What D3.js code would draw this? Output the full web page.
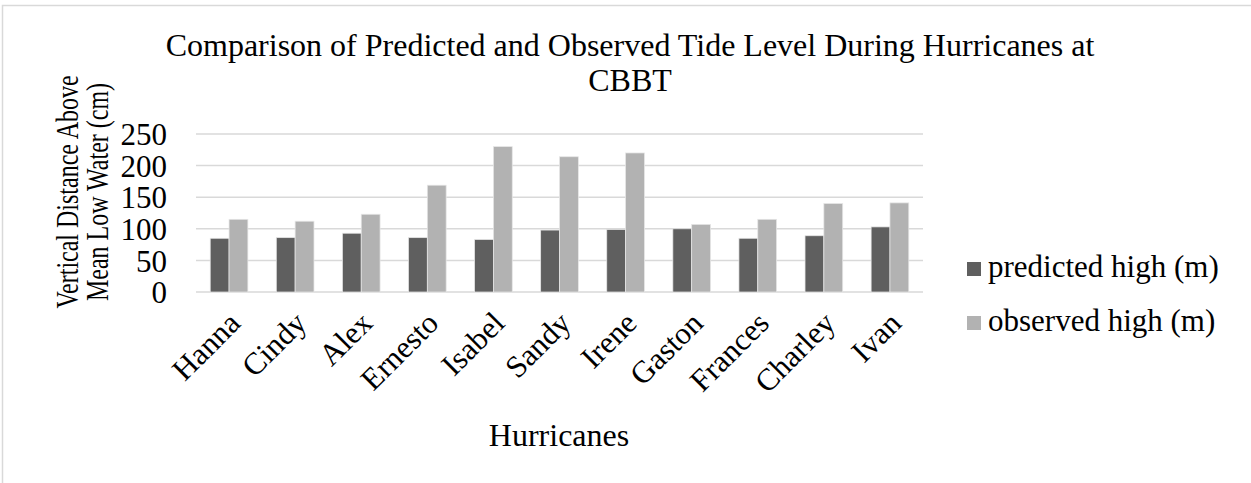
<!DOCTYPE html>
<html>
<head>
<meta charset="utf-8">
<script src="https://cdn.jsdelivr.net/npm/d3@7"></script>
<style>
  body { margin: 0; background: #fff; }
  text { font-family: "Liberation Serif", "Times New Roman", serif; fill: #000; }
</style>
</head>
<body>
<div id="chart"></div>
<script>
// hurricane names along the x axis
var hurricanes = ["Hanna", "Cindy", "Alex", "Ernesto", "Isabel", "Sandy", "Irene", "Gaston", "Frances", "Charley", "Ivan"];
var predictedHigh = [85, 86, 93, 86, 83, 98, 99, 100, 85, 89, 103];
var observedHigh = [115, 112, 123, 169, 230, 214, 220, 107, 115, 140, 141];
var seriesNames = ["predicted high (m)", "observed high (m)"];
var yTicks = [0, 50, 100, 150, 200, 250];
var yTitleLines = ["Vertical Distance Above", "Mean Low Water (cm)"];

function createBarChart() {
    var width = 1251, height = 483;
    var margin = { top: 134, right: 328, bottom: 191, left: 196 };
    var colors = ["#5f5f5f", "#b2b2b2"];

    var svg = d3.select("#chart")
        .append("svg")
        .attr("width", width)
        .attr("height", height);

    // outer chart border (runs off right and bottom edge)
    svg.append("path")
        .attr("d", "M2.5," + (height + 5) + "V5.5H" + (width + 5))
        .attr("fill", "none")
        .attr("stroke", "#d9d9d9")
        .attr("stroke-width", 1.5);

    var x = d3.scaleBand()
        .domain(hurricanes)
        .range([margin.left, width - margin.right])
        .paddingInner(0.43)
        .paddingOuter(0.215);

    var x1 = d3.scaleBand()
        .domain([0, 1])
        .range([0, x.bandwidth()]);

    var y = d3.scaleLinear()
        .domain([0, 250])
        .range([height - margin.bottom, margin.top]);

    // gridlines
    svg.append("g")
        .selectAll("line")
        .data(yTicks)
        .enter()
        .append("line")
        .attr("x1", margin.left)
        .attr("x2", width - margin.right)
        .attr("y1", function (d) { return y(d); })
        .attr("y2", function (d) { return y(d); })
        .attr("stroke", "#d9d9d9")
        .attr("stroke-width", 1.5);

    // y tick labels
    svg.append("g")
        .selectAll("text")
        .data(yTicks)
        .enter()
        .append("text")
        .attr("x", 167)
        .attr("y", function (d) { return y(d); })
        .attr("dy", "0.36em")
        .attr("text-anchor", "end")
        .style("font-size", "31px")
        .text(function (d) { return d; });

    // bars
    var series = [predictedHigh, observedHigh];
    series.forEach(function (vals, si) {
        svg.append("g")
            .selectAll("rect")
            .data(vals)
            .enter()
            .append("rect")
            .attr("x", function (d, i) { return x(hurricanes[i]) + x1(si); })
            .attr("y", function (d) { return y(d); })
            .attr("width", x1.bandwidth())
            .attr("height", function (d) { return y(0) - y(d); })
            .attr("fill", colors[si])
            .attr("stroke", "#e6e6e6")
            .attr("stroke-width", 0.75);
    });

    // x labels, rotated
    svg.append("g")
        .selectAll("text")
        .data(hurricanes)
        .enter()
        .append("text")
        .attr("transform", function (d) {
            return "translate(" + (x(d) + x.bandwidth() / 2 + 13) + "," + (y(0) + 33) + ") rotate(-45)";
        })
        .attr("text-anchor", "end")
        .style("font-size", "31px")
        .text(function (d) { return d; });

    // title
    var title = svg.append("text")
        .attr("x", 630)
        .attr("text-anchor", "middle")
        .style("font-size", "32px");
    title.append("tspan").attr("x", 630).attr("y", 56)
        .text("Comparison of Predicted and Observed Tide Level During Hurricanes at");
    title.append("tspan").attr("x", 630).attr("y", 91).text("CBBT");

    // y axis title, two rotated lines (glyphs look wider in the picture)
    var yTitleX = [67, 98];
    svg.append("g")
        .selectAll("text")
        .data(yTitleLines)
        .enter()
        .append("text")
        .attr("transform", function (d, i) {
            return "translate(" + yTitleX[i] + ",192) scale(1.35,1) rotate(-90)";
        })
        .attr("text-anchor", "middle")
        .attr("dy", function (d, i) { return i === 0 ? "0.34em" : "0.3em"; })
        .style("font-size", "24px")
        .text(function (d) { return d; });

    // x axis title
    svg.append("text")
        .attr("x", 559)
        .attr("y", 446)
        .attr("text-anchor", "middle")
        .style("font-size", "32px")
        .text("Hurricanes");

    // legend
    var legend = svg.append("g")
        .selectAll("g")
        .data(seriesNames)
        .enter()
        .append("g")
        .attr("transform", function (d, i) { return "translate(967," + (262 + i * 54) + ")"; });

    legend.append("rect")
        .attr("width", 14)
        .attr("height", 14)
        .attr("fill", function (d, i) { return colors[i]; });

    legend.append("text")
        .attr("x", 21)
        .attr("y", 15)
        .style("font-size", "31px")
        .text(function (d) { return d; });
}

createBarChart();
</script>
</body>
</html>
